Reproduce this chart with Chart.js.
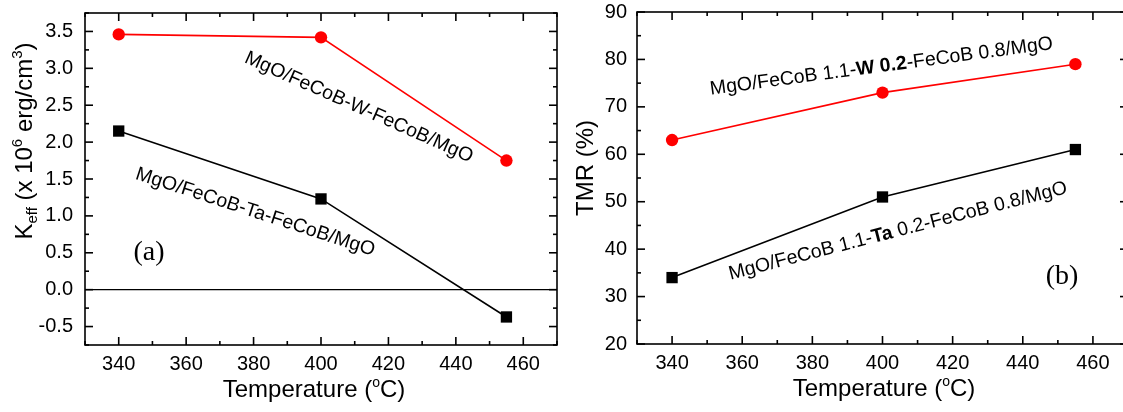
<!DOCTYPE html>
<html><head><meta charset="utf-8">
<script src="https://cdn.jsdelivr.net/npm/chart.js@4/dist/chart.umd.min.js"></script>
<style>
html,body{margin:0;padding:0;width:1123px;height:412px;overflow:hidden;background:#fff;}
#wa{position:absolute;left:0;top:0;width:560px;height:412px;}
#wb{position:absolute;left:560px;top:0;width:571px;height:412px;}
</style></head><body>
<div id="wa"><canvas id="ca"></canvas></div>
<div id="wb"><canvas id="cb"></canvas></div>
<script>
// ---- data ----
const temperatures = [340, 400, 455];
const keffW = [3.46, 3.42, 1.75];
const keffTa = [2.15, 1.23, -0.37];
const tmrW = [63, 73, 79];
const tmrTa = [34, 51, 61];
const xTickLabels = [340, 360, 380, 400, 420, 440, 460];
const keffTickLabels = [-0.5, 0.0, 0.5, 1.0, 1.5, 2.0, 2.5, 3.0, 3.5];
const tmrTickLabels = [20, 30, 40, 50, 60, 70, 80, 90];

const FONT = '"Liberation Sans", Arial, sans-serif';
const SERIF = '"Liberation Serif", "Times New Roman", serif';

function fontOf(s){ return (s.bold?'bold ':'') + s.size + 'px ' + (s.family||FONT); }
function drawRich(ctx, x, y, angleDeg, segs, baseline){
  ctx.save();
  ctx.translate(x, y);
  ctx.rotate(angleDeg*Math.PI/180);
  ctx.textBaseline = baseline || 'middle';
  ctx.textAlign = 'left';
  let total = 0;
  const widths = segs.map(s => { ctx.font = fontOf(s); const w = ctx.measureText(s.t).width; total += w; return w; });
  let cx = -total/2;
  segs.forEach((s,i) => { ctx.font = fontOf(s); ctx.fillStyle = s.color || '#000'; ctx.fillText(s.t, cx, s.dy||0); cx += widths[i]; });
  ctx.restore();
}

function makeOverlay(spec){
  return {
    id: 'overlay',
    beforeDatasetsDraw(chart){
      const {ctx, chartArea:a, scales:{x,y}} = chart;
      if (spec.zeroLine){
        ctx.save();
        ctx.strokeStyle = '#000'; ctx.lineWidth = 1.4;
        const py = y.getPixelForValue(0);
        ctx.beginPath(); ctx.moveTo(a.left, py); ctx.lineTo(a.right, py); ctx.stroke();
        ctx.restore();
      }
    },
    afterDraw(chart){
      const {ctx, chartArea:a, scales:{x,y}} = chart;
      ctx.save();
      ctx.strokeStyle = '#000'; ctx.lineWidth = 1.6; ctx.lineCap = 'butt';
      const ln = (x1,y1,x2,y2)=>{ ctx.beginPath(); ctx.moveTo(x1,y1); ctx.lineTo(x2,y2); ctx.stroke(); };
      const ticks = (sc, minor, major, fn) => {
        const k0 = Math.ceil(sc.min/minor - 1e-9), k1 = Math.floor(sc.max/minor + 1e-9);
        for (let k=k0; k<=k1; k++){
          const v = k*minor;
          const isMajor = Math.abs(v/major - Math.round(v/major)) < 1e-6;
          fn(sc.getPixelForValue(v), isMajor ? 8 : 4);
        }
      };
      ticks(x, spec.xMinor, spec.xMajor, (px, L) => { ln(px, a.bottom, px, a.bottom-L); ln(px, a.top, px, a.top+L); });
      ticks(y, spec.yMinor, spec.yMajor, (py, L) => { ln(a.left, py, a.left+L, py); ln(a.right, py, a.right-L, py); });
      ctx.strokeRect(a.left, a.top, a.right-a.left, a.bottom-a.top);
      ctx.restore();
      spec.notes.forEach(n => drawRich(ctx, x.getPixelForValue(n.x), y.getPixelForValue(n.y), n.angle, n.segs, 'middle'));
      spec.titles.forEach(t => drawRich(ctx, t.px, t.py, t.angle, t.segs, 'alphabetic'));
    }
  };
}

function zeroPad(sc){ sc.paddingTop = 0; sc.paddingBottom = 0; sc.paddingLeft = 0; sc.paddingRight = 0; }

function makeChart(id, s){
  return new Chart(document.getElementById(id), {
    type: 'line',
    data: { datasets: [
      { data: temperatures.map((t,i)=>({x:t, y:s.red[i]})), borderColor:'#ff0000', backgroundColor:'#ff0000',
        borderWidth:1.6, pointStyle:'circle', pointRadius:6.2, pointBorderWidth:0, tension:0 },
      { data: temperatures.map((t,i)=>({x:t, y:s.black[i]})), borderColor:'#000', backgroundColor:'#000',
        borderWidth:1.6, pointStyle:'rect', pointRadius:8, pointBorderWidth:0, tension:0 }
    ]},
    options: {
      responsive:true, maintainAspectRatio:false, animation:false,
      layout:{ padding: s.pad, autoPadding:false },
      plugins:{ legend:{display:false}, tooltip:{enabled:false} },
      scales:{
        x:{ type:'linear', min:330, max:470,
            afterBuildTicks: sc => { sc.ticks = xTickLabels.map(v=>({value:v})); },
            afterFit: sc => { sc.height = s.xh; zeroPad(sc); },
            grid:{display:false, drawTicks:false, tickLength:0}, border:{display:false},
            ticks:{ font:{family:FONT, size:20, lineHeight:1}, color:'#000', padding:9, maxRotation:0, autoSkip:false,
                    callback: v => String(v) } },
        y:{ type:'linear', min:s.ymin, max:s.ymax,
            afterBuildTicks: sc => { sc.ticks = s.yTicks.map(v=>({value:v})); },
            afterFit: sc => { sc.width = s.yw; zeroPad(sc); },
            grid:{display:false, drawTicks:false, tickLength:0}, border:{display:false},
            ticks:{ font:{family:FONT, size:20, lineHeight:1}, color:'#000', padding:s.ypad, autoSkip:false,
                    callback: s.fmt } }
      }
    },
    plugins:[ makeOverlay(s.overlay) ]
  });
}

makeChart('ca', {
  red: keffW, black: keffTa, ymin:-0.75, ymax:3.75, yTicks: keffTickLabels,
  fmt: v => Number(v).toFixed(1), pad:{left:0, top:13, right:3, bottom:0}, xh:67, yw:85, ypad:12,
  overlay:{ xMinor:10, xMajor:20, yMinor:0.25, yMajor:0.5, zeroLine:true,
    notes:[
      {x:411.2, y:2.47, angle:24, segs:[{t:'MgO/FeCoB-W-FeCoB/MgO', size:19.5}]},
      {x:380.5, y:1.05, angle:18, segs:[{t:'MgO/FeCoB-Ta-FeCoB/MgO', size:19.5}]},
      {x:349, y:0.50, angle:0, segs:[{t:'(a)', size:28, family:SERIF}]}
    ],
    titles:[
      {px:314, py:397, angle:0, segs:[{t:'Temperature (', size:24},{t:'o', size:14, dy:-10},{t:'C)', size:24}]},
      {px:32, py:141, angle:-90, segs:[{t:'K', size:24},{t:'eff', size:15, dy:5},{t:' (x 10', size:24},{t:'6', size:15, dy:-10},{t:' erg/cm', size:24},{t:'3', size:15, dy:-10},{t:')', size:24}]}
    ]}
});

makeChart('cb', {
  red: tmrW, black: tmrTa, ymin:20, ymax:90, yTicks: tmrTickLabels,
  fmt: v => String(v), pad:{left:0, top:12, right:3, bottom:0}, xh:68, yw:77, ypad:10,
  overlay:{ xMinor:10, xMajor:20, yMinor:5, yMajor:10, zeroLine:false,
    notes:[
      {x:399.7, y:78.5, angle:-7.6, segs:[{t:'MgO/FeCoB 1.1-', size:19.5},{t:'W 0.2', size:19.5, bold:true},{t:'-FeCoB 0.8/MgO', size:19.5}]},
      {x:404.4, y:43.8, angle:-14.4, segs:[{t:'MgO/FeCoB 1.1-', size:19.5},{t:'Ta', size:19.5, bold:true},{t:' 0.2-FeCoB 0.8/MgO', size:19.5}]},
      {x:451.2, y:34.3, angle:0, segs:[{t:'(b)', size:28, family:SERIF}]}
    ],
    titles:[
      {px:324, py:396, angle:0, segs:[{t:'Temperature (', size:24},{t:'o', size:14, dy:-10},{t:'C)', size:24}]},
      {px:33, py:168, angle:-90, segs:[{t:'TMR (%)', size:24}]}
    ]}
});
</script>
</body></html>
